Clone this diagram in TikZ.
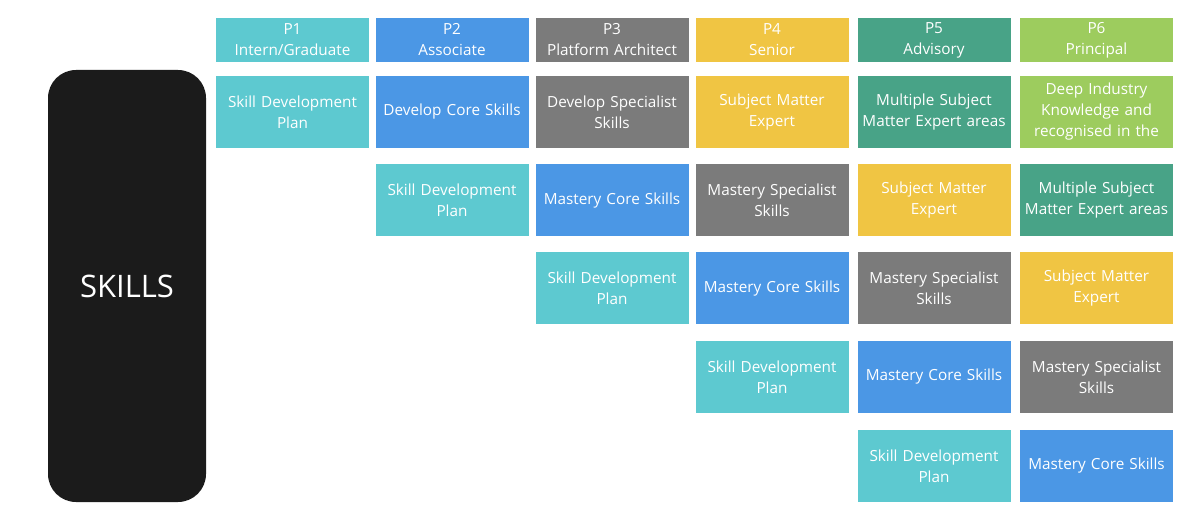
\documentclass[tikz,border=0pt]{standalone}
\usepackage{fontspec}
\setmainfont{Open Sans}
\usepackage{tikz}

\definecolor{sdpcol}{HTML}{5DC9D0}
\definecolor{corecol}{HTML}{4B97E5}
\definecolor{speccol}{HTML}{7B7B7B}
\definecolor{smecol}{HTML}{F0C543}
\definecolor{multicol}{HTML}{48A387}
\definecolor{deepcol}{HTML}{9DCC5E}
\definecolor{skillcol}{HTML}{1B1B1B}

\begin{document}
\begin{tikzpicture}[x=1pt,y=-1pt,
  box/.style={minimum width=153pt,minimum height=72pt,inner sep=0pt,
    text width=150pt,align=center,text=white,
    font=\fontsize{15.3}{21}\selectfont},
  hdr/.style={box,minimum height=44pt},
  sdp/.style={box,fill=sdpcol},
  core/.style={box,fill=corecol},
  spec/.style={box,fill=speccol},
  sme/.style={box,fill=smecol},
  multi/.style={box,fill=multicol},
  deep/.style={box,fill=deepcol}]

\useasboundingbox (0,0) rectangle (1188,518);

% left block
\node[fill=skillcol,rounded corners=28pt,minimum width=158pt,minimum height=432pt,
  text=white,font=\fontsize{31}{36}\selectfont] (skills) at (127,286) {SKILLS};

% headers
\node[hdr,fill=sdpcol] (h1) at (292.5,40) {P1\\Intern/Graduate};
\node[hdr,fill=corecol] (h2) at (452,40) {P2\\Associate};
\node[hdr,fill=speccol] (h3) at (612,40) {P3\\Platform Architect};
\node[hdr,fill=smecol] (h4) at (772,40) {P4\\Senior};
\node[hdr,fill=multicol] (h5) at (934,40) {P5\\Advisory};
\node[hdr,fill=deepcol] (h6) at (1096.5,40) {P6\\Principal};

% P1
\node[sdp] (b11) at (292.5,112) {Skill Development\\Plan};

% P2
\node[core] (b21) at (452,112) {Develop Core Skills};
\node[sdp] (b22) at (452,200.5) {Skill Development\\Plan};

% P3
\node[spec] (b31) at (612,112) {Develop Specialist\\Skills};
\node[core] (b32) at (612,200.5) {Mastery Core Skills};
\node[sdp] (b33) at (612,288.5) {Skill Development\\Plan};

% P4
\node[sme] (b41) at (772,112) {Subject Matter\\Expert};
\node[spec] (b42) at (772,200.5) {Mastery Specialist\\Skills};
\node[core] (b43) at (772,288.5) {Mastery Core Skills};
\node[sdp] (b44) at (772,377) {Skill Development\\Plan};

% P5
\node[multi] (b51) at (934,112) {Multiple Subject\\Matter Expert areas};
\node[sme] (b52) at (934,200.5) {Subject Matter\\Expert};
\node[spec] (b53) at (934,288.5) {Mastery Specialist\\Skills};
\node[core] (b54) at (934,377) {Mastery Core Skills};
\node[sdp] (b55) at (934,466) {Skill Development\\Plan};

% P6
\node[deep] (b61) at (1096.5,112) {Deep Industry\\Knowledge and\\recognised in the};
\node[multi] (b62) at (1096.5,200.5) {Multiple Subject\\Matter Expert areas};
\node[sme] (b63) at (1096.5,288.5) {Subject Matter\\Expert};
\node[spec] (b64) at (1096.5,377) {Mastery Specialist\\Skills};
\node[core] (b65) at (1096.5,466) {Mastery Core Skills};

\end{tikzpicture}
\end{document}
